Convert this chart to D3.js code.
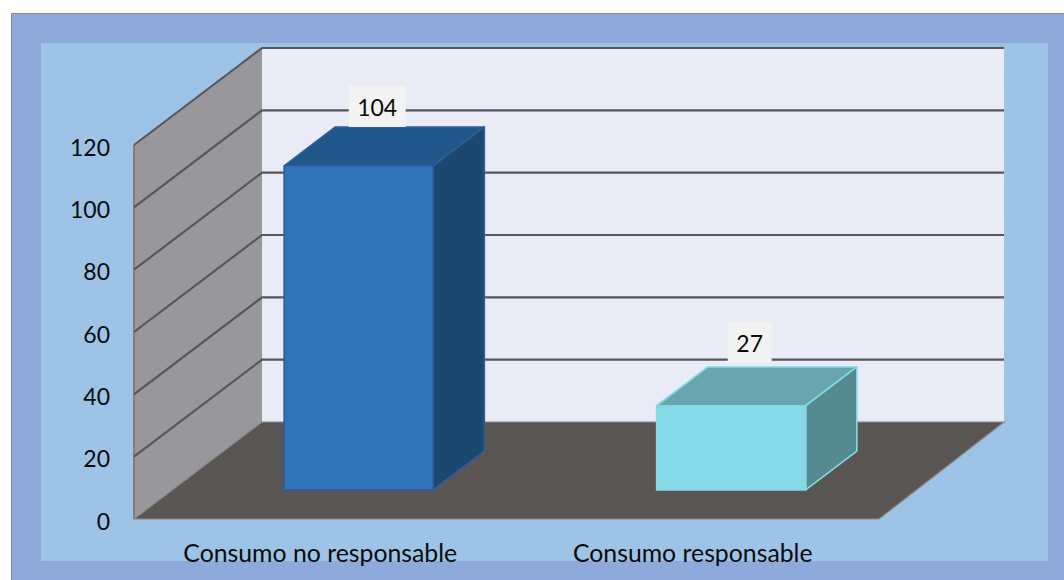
<!DOCTYPE html>
<html>
<head>
<meta charset="utf-8">
<script src="https://cdn.jsdelivr.net/npm/d3@7"></script>
<style>
html,body{margin:0;padding:0;background:#fff}
svg{display:block}
text{font-family:Lato,"Open Sans",sans-serif;fill:#0a0a0a}
</style>
</head>
<body>
<svg id="chart" width="1064" height="580"></svg>
<script>
const categories = ["Consumo no responsable", "Consumo responsable"];
const values = [104, 27];
const tickValues = [0, 20, 40, 60, 80, 100, 120];
const faceColors = [
  {front:"#2e74b6", top:"#20568a", side:"#1c4870", edge:"#2f5c9e"},
  {front:"#86d9e6", top:"#69a5ae", side:"#558a90", edge:"#7fdbe8"}
];

const svg = d3.select("#chart");
const x = d3.scaleBand().domain(categories).range([134, 879]).paddingInner(0).paddingOuter(0);
const y = d3.scaleLinear().domain([0, 120]).range([519, 145]);
const depthX = 128, depthY = 97;
const barW = x.bandwidth() * 0.4;
const zFront = 0.3, zBack = 0.7;
const px = (xv, z) => xv + depthX * z;
const py = (yv, z) => yv - depthY * z;
const poly = pts => pts.map(p => p.join(",")).join(" ");

// frame
svg.append("rect").attr("x", 11.5).attr("y", 13.5).attr("width", 1060).attr("height", 580)
  .attr("fill", "#8eaadb").attr("stroke", "#8a8a8a").attr("stroke-width", 1);
svg.append("rect").attr("x", 41).attr("y", 43).attr("width", 1007).attr("height", 518).attr("fill", "#9dc3e6");

const x0 = x.range()[0], x1 = x.range()[1];
const backLeft = px(x0, 1), backRight = px(x1, 1) - 3;
// back wall
svg.append("polygon").attr("points", poly([
  [backLeft, py(y(120),1)], [backRight, py(y(120),1)], [backRight, py(y(0),1)], [backLeft, py(y(0),1)]
])).attr("fill", "#e9ebf7");
// side wall
svg.append("polygon").attr("points", poly([
  [x0, y(120)], [backLeft, py(y(120),1)], [backLeft, py(y(0),1)], [x0, y(0)]
])).attr("fill", "#97979c");
svg.append("line").attr("x1", x0).attr("x2", x0).attr("y1", y(120)).attr("y2", y(0))
  .attr("stroke", "#7f7f7f").attr("stroke-width", 2);
// floor
svg.append("polygon").attr("points", poly([
  [x0, y(0)], [x1, y(0)], [backRight, py(y(0),1)], [backLeft, py(y(0),1)]
])).attr("fill", "#595552").attr("stroke", "#8a8787").attr("stroke-width", 1.2);

// gridlines
const grid = tickValues.filter(d => d > 0);
svg.append("g").selectAll("polyline").data(grid).join("polyline")
  .attr("points", d => poly([[x0, y(d)], [backLeft, py(y(d),1)], [backRight, py(y(d),1)]]))
  .attr("fill", "none").attr("stroke", "#56565a").attr("stroke-width", 2.1);

// y axis labels
const axis = d3.axisLeft(y).tickValues(tickValues).tickSize(0).tickPadding(24);
const gAxis = svg.append("g").attr("transform", `translate(${x0},2)`).call(axis);
gAxis.select(".domain").remove();
gAxis.selectAll("text").style("font-family", "Lato").style("font-size", "23px").attr("fill", "#0a0a0a").attr("dy", "0.36em");

// bars
const bars = svg.append("g").selectAll("g").data(categories).join("g");
bars.each(function(c, i) {
  const g = d3.select(this);
  const xc = x(c) + x.bandwidth() / 2;
  const l = xc - barW / 2, r = xc + barW / 2;
  const t = y(values[i]), b = y(0);
  const col = faceColors[i];
  const style = (sel, fill) => sel.attr("fill", fill).attr("stroke", col.edge).attr("stroke-width", 1.6).attr("stroke-linejoin", "round");
  style(g.append("polygon").attr("points", poly([
    [px(l,zFront), py(t,zFront)], [px(l,zBack), py(t,zBack)], [px(r,zBack), py(t,zBack)], [px(r,zFront), py(t,zFront)]
  ])), col.top);
  style(g.append("polygon").attr("points", poly([
    [px(r,zFront), py(t,zFront)], [px(r,zBack), py(t,zBack)], [px(r,zBack), py(b,zBack)], [px(r,zFront), py(b,zFront)]
  ])), col.side);
  style(g.append("polygon").attr("points", poly([
    [px(l,zFront), py(t,zFront)], [px(r,zFront), py(t,zFront)], [px(r,zFront), py(b,zFront)], [px(l,zFront), py(b,zFront)]
  ])), col.front);
  // value label
  const cx = px(xc, 0.445), lineY = py(t, zBack) - (i ? 4 : 0);
  const label = String(values[i]);
  const boxW = label.length === 3 ? 57 : 44;
  const boxH = 41;
  g.append("rect").attr("x", cx - boxW / 2).attr("y", lineY - boxH).attr("width", boxW).attr("height", boxH).attr("fill", "#f2f2f2");
  g.append("text").attr("x", cx).attr("y", lineY - 10.5).attr("text-anchor", "middle").style("font-size", "23px").text(label);
});

// category labels
svg.append("g").selectAll("text").data(categories).join("text")
  .attr("x", d => x(d) + x.bandwidth() / 2)
  .attr("y", 562)
  .attr("text-anchor", "middle")
  .style("font-size", "24.8px")
  .text(d => d);
</script>
</body>
</html>
